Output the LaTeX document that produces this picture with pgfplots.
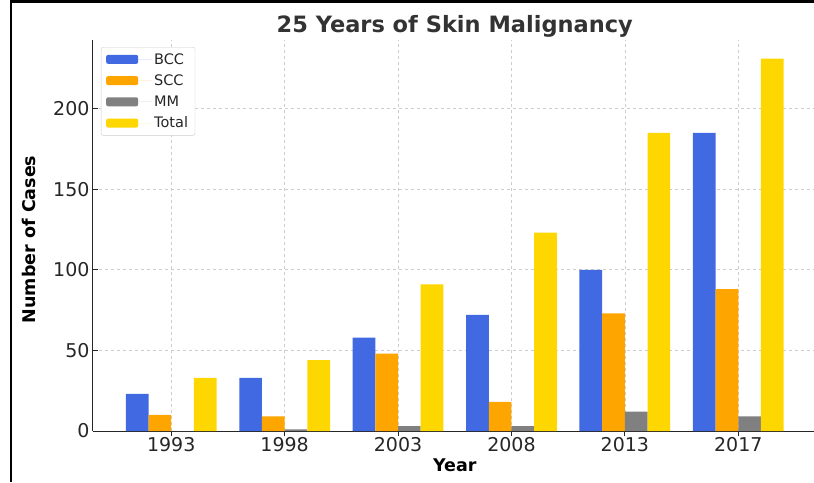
\documentclass[border=0pt]{standalone}
\usepackage{pgfplots}
\pgfplotsset{compat=1.18}
\usepackage{fontspec}
\setmainfont{DejaVu Sans}
\definecolor{bcc}{HTML}{4169E1}
\definecolor{scc}{HTML}{FFA500}
\definecolor{mm}{HTML}{808080}
\definecolor{tot}{HTML}{FFD700}
\definecolor{txt}{HTML}{262626}
\definecolor{ttl}{HTML}{333333}
\definecolor{gridc}{HTML}{CCCCCC}
\begin{document}
\begin{tikzpicture}
\begin{axis}[
  at={(0pt,0pt)}, anchor=south west,
  scale only axis, width=723.5pt, height=391pt,
  xmin=-0.69, xmax=5.69, ymin=0, ymax=242.55,
  xtick={0,1,2,3,4,5},
  xticklabels={1993,1998,2003,2008,2013,2017},
  ytick={0,50,100,150,200},
  axis x line*=bottom, axis y line*=left,
  axis line style={color=txt, line width=1pt},
  tick align=inside, major tick length=5pt,
  tick style={color=txt, line width=0.9pt},
  /pgf/number format/assume math mode=true,
  ticklabel style={font=\fontsize{19}{22}\selectfont, color=txt},
  xticklabel style={yshift=2.5pt},
  grid=major,
  major grid style={color=gridc, dash pattern=on 3pt off 3pt, line width=0.6pt},
  title={25 Years of Skin Malignancy},
  title style={at={(axis description cs:0.5,1)}, anchor=center, yshift=8pt,
    font=\bfseries\fontsize{22.5}{26}\selectfont, color=ttl},
  xlabel={Year},
  xlabel style={at={(axis description cs:0.5,0)}, anchor=center, yshift=-34pt,
    font=\bfseries\fontsize{17.5}{20}\selectfont, color=black},
  ylabel={Number of Cases},
  ylabel style={at={(axis description cs:-0.089,0.49)}, anchor=center,
    font=\bfseries\fontsize{17.5}{20}\selectfont, color=black},
  ybar, bar width=0.2,
  legend style={at={(0.011,0.982)}, anchor=north west, draw=gridc, rounded corners=2pt,
    font=\fontsize{14.5}{17}\selectfont, text=txt, row sep=5pt, inner xsep=5pt, inner ysep=4pt},
  legend cell align=left,
  legend image code/.code={\fill[#1] (0pt,-4.5pt) rectangle (32pt,4.5pt); \path (0pt,0pt) -- (46pt,0pt);},
]
\addplot[fill=bcc, draw=none, bar shift=-0.3] coordinates {(0,23) (1,33) (2,58) (3,72) (4,100) (5,185)};
\addplot[fill=scc, draw=none, bar shift=-0.1] coordinates {(0,10) (1,9) (2,48) (3,18) (4,73) (5,88)};
\addplot[fill=mm, draw=none, bar shift=0.1] coordinates {(0,0) (1,1) (2,3) (3,3) (4,12) (5,9)};
\addplot[fill=tot, draw=none, bar shift=0.3] coordinates {(0,33) (1,44) (2,91) (3,123) (4,185) (5,231)};
\legend{BCC,SCC,MM,Total}
\end{axis}
\pgfresetboundingbox
\useasboundingbox (-93pt,-51pt) rectangle (721pt,431pt);
\draw[line width=2.5pt, black] (-82pt,-51pt) -- (-82pt,429.5pt) -- (721pt,429.5pt);
\end{tikzpicture}
\end{document}
